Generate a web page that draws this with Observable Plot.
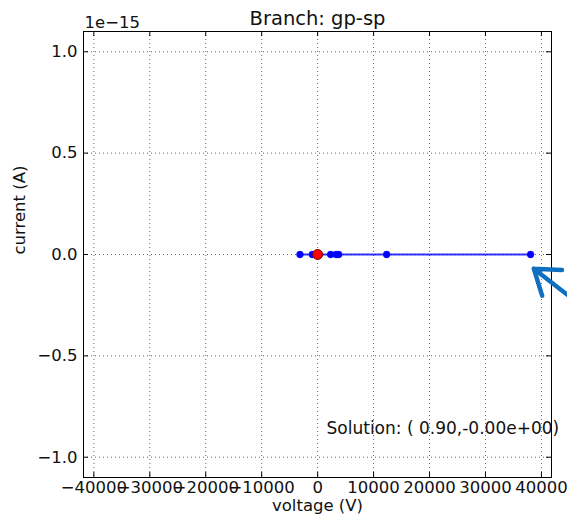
<!DOCTYPE html>
<html>
<head>
<meta charset="utf-8">
<script src="https://cdn.jsdelivr.net/npm/d3@7"></script>
<script src="https://cdn.jsdelivr.net/npm/@observablehq/plot@0.6"></script>
<style>
  html, body { margin: 0; padding: 0; background: #fff; }
  #chart svg { display: block; }
</style>
</head>
<body>
<div id="chart"></div>
<script>
// Branch sweep: voltage (V) vs current (A) for branch gp-sp
const branchName = "gp-sp";
const sweepVoltage = [-3160, -950, 2320, 3300, 3750, 12330, 38060];
const sweepCurrent = [0, 0, 0, 0, 0, 0, 0];

// Operating point found by the solver
const solutionVoltage = 0.90;
const solutionCurrent = -0.0;

// Axis ticks (current ticks are in units of 1e-15 A)
const xTicks = [-40000, -30000, -20000, -10000, 0, 10000, 20000, 30000, 40000];
const yTicks = [-1.0, -0.5, 0.0, 0.5, 1.0];
const yExponent = -15;

// Pointer annotation (tail -> head), in data units
const pointerTail = { v: 50570, i: -0.326e-15 };
const pointerHead = { v: 38640, i: -0.07e-15 };

// Solution label anchor
const labelAnchor = { v: 1590, i: -0.858e-15 };

const W = 567, H = 523;
const mL = 83, mR = 16, mT = 31, mB = 46;
const innerW = W - mL - mR, innerH = H - mT - mB;
const font = "DejaVu Sans, sans-serif";
const ink = "#111";

const sweep = sweepVoltage.map((v, k) => ({ v, i: sweepCurrent[k] }));
const scaleI = i => i / Math.pow(10, yExponent);

const minus = s => s.replace(/^-/, "\u2212");
const fmtX = d => minus(String(d));
const fmtY = d => minus(d.toFixed(1));
const fmtE = x => {
  const neg = x < 0 || Object.is(x, -0);
  const [m, e] = Math.abs(x).toExponential(2).split("e");
  const en = Math.abs(+e);
  return (neg ? "-" : "") + m + "e" + (+e < 0 ? "-" : "+") + String(en).padStart(2, "0");
};
const solutionText = `Solution: ( ${solutionVoltage.toFixed(2)},${fmtE(solutionCurrent)})`;

const chart = Plot.plot({
  width: W,
  height: H,
  marginLeft: mL,
  marginRight: mR,
  marginTop: mT,
  marginBottom: mB,
  style: { fontFamily: font, fontSize: "16.5px", color: ink, background: "#fff" },
  x: { domain: [-41850, 41800] },
  y: { domain: [-1.1, 1.1] },
  marks: [
    Plot.gridX(xTicks, { stroke: "#000", strokeOpacity: 1, strokeWidth: 0.6, strokeDasharray: "1,3" }),
    Plot.gridY(yTicks, { stroke: "#000", strokeOpacity: 1, strokeWidth: 0.6, strokeDasharray: "1,3" }),
    // inward ticks on all four sides
    Plot.tickX(xTicks, { x: d => d, insetTop: innerH - 5, stroke: "#000" }),
    Plot.tickX(xTicks, { x: d => d, insetBottom: innerH - 5, stroke: "#000" }),
    Plot.tickY(yTicks, { y: d => d, insetRight: innerW - 5, stroke: "#000" }),
    Plot.tickY(yTicks, { y: d => d, insetLeft: innerW - 5, stroke: "#000" }),
    Plot.axisX({ ticks: xTicks, tickFormat: fmtX, tickSize: 0, tickPadding: 4, label: null, fontSize: 16.5 }),
    Plot.axisY({ ticks: yTicks, tickFormat: fmtY, tickSize: 0, tickPadding: 6, label: null, fontSize: 16.5 }),
    Plot.frame({ stroke: "#000", strokeWidth: 1 }),
    // sweep path and iterates
    Plot.line(sweep, { x: "v", y: d => scaleI(d.i), stroke: "#0000ff", strokeWidth: 2, strokeOpacity: 0.8 }),
    Plot.dot(sweep, { x: "v", y: d => scaleI(d.i), r: 3.4, fill: "#0000ff", stroke: "#0000ff", strokeWidth: 0.5 }),
    Plot.dot([{ v: solutionVoltage, i: solutionCurrent }], { x: "v", y: d => scaleI(d.i), r: 5, fill: "#ff0000", stroke: "#800000", strokeWidth: 1 }),
    Plot.text([solutionText], { x: labelAnchor.v, y: scaleI(labelAnchor.i), text: d => d, textAnchor: "start", fontSize: 17, fill: ink }),
    Plot.arrow([{ t: pointerTail, h: pointerHead }], {
      x1: d => d.t.v, y1: d => scaleI(d.t.i), x2: d => d.h.v, y2: d => scaleI(d.h.i),
      stroke: "#0f6fc0", strokeWidth: 4.5, headLength: 16, headAngle: 70, clip: false
    }),
    // titles and labels
    Plot.text([`Branch: ${branchName}`], { frameAnchor: "top", dy: -20, text: d => d, fontSize: 19.5, fill: ink }),
    Plot.text([`1e\u2212${Math.abs(yExponent)}`], { frameAnchor: "top-left", dx: 1, dy: -15, textAnchor: "start", text: d => d, fontSize: 16.5, fill: ink }),
    Plot.text(["voltage (V)"], { frameAnchor: "bottom", dy: 33, text: d => d, fontSize: 16.5, fill: ink }),
    Plot.text(["current (A)"], { frameAnchor: "left", dx: -64, rotate: -90, text: d => d, fontSize: 16.5, fill: ink })
  ]
});

document.getElementById("chart").appendChild(chart);
</script>
</body>
</html>
